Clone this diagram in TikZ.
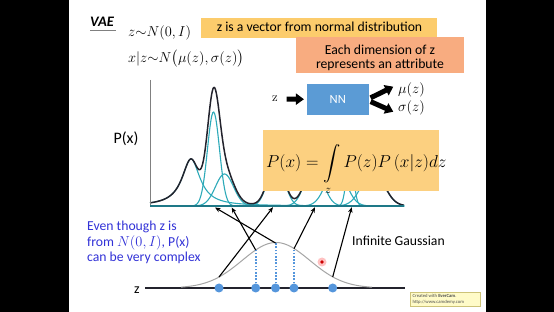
\documentclass[tikz,border=0pt]{standalone}
\usepackage{exscale}
\usepackage{fontspec}
\newfontfamily\calib{Carlito}
\usetikzlibrary{arrows.meta}
\definecolor{boxA}{RGB}{252,204,108}
\definecolor{boxB}{RGB}{248,172,128}
\definecolor{boxC}{RGB}{252,208,128}
\definecolor{nnblue}{RGB}{91,155,213}
\definecolor{tealc}{RGB}{45,170,185}
\definecolor{axteal}{RGB}{30,120,135}
\definecolor{curvegray}{RGB}{165,165,165}
\definecolor{dotblue}{RGB}{85,150,220}
\definecolor{txtblue}{RGB}{50,50,215}
\definecolor{ecfill}{RGB}{255,251,200}
\definecolor{ecdraw}{RGB}{205,195,120}
\definecolor{sumcol}{RGB}{35,35,45}
\tikzset{
  sanstext/.style={font=\calib\fontsize{13.7}{15.6}\selectfont, inner sep=0pt},
  colbox/.style={rectangle, inner sep=0pt},
  bigarrow/.style={line width=5pt, -{Triangle[length=8pt,width=11pt]}},
  zarrow/.style={line width=1.1pt, -{Stealth[length=5.5pt,width=4.5pt]}},
  dotline/.style={dotblue, line width=2pt, dash pattern=on 1.6pt off 1.6pt},
  zdot/.style={circle, fill=dotblue, minimum size=9pt, inner sep=0pt},
  tealcurve/.style={tealc, line width=1.1pt},
  mathtext/.style={inner sep=0pt, font=\fontsize{13.8}{16}\selectfont},
}
\begin{document}
\begin{tikzpicture}[x=1pt,y=-1pt,
  declare function={
    gau(\t,\c,\s)=exp(-min(0.5*((\t-\c)/\s)*((\t-\c)/\s),15));
    lor(\t,\c,\w)=1/(1+((\t-\c)/\w)*((\t-\c)/\w));
    cA(\t)=47*lor(\t,191,11);
    cB(\t)=94*gau(\t,213.5,6);
    cC(\t)=32*gau(\t,224.5,9);
    cD(\t)=45*gau(\t,276,8);
    cE(\t)=40*gau(\t,314,9);
    cF(\t)=38*gau(\t,336,10);
    cG(\t)=50*gau(\t,350,3.5);
    cH(\t)=35*gau(\t,373,11);
    tot(\t)=cA(\t)+cB(\t)+cC(\t)+cD(\t)+cE(\t)+cF(\t)+cG(\t)+cH(\t);
  }]
\useasboundingbox (0,0) rectangle (554,312);
\fill[black] (0,0) rectangle (554,312);
\fill[white] (69,0) rectangle (486,312);

% title and equations
\node[inner sep=0pt, anchor=base west, font=\calib\bfseries\itshape\fontsize{14.5}{16}\selectfont] (vae) at (90,26.5) {VAE};
\draw[gray, line width=0.9pt] (90,30.5) -- (116,30.5);
\node[mathtext, anchor=base west] (eq1) at (128,36.5) {$z{\sim}N(0,I)$};
\node[mathtext, anchor=base west] (eq2) at (128,62.5) {$x|z{\sim}N\bigl(\mu(z),\sigma(z)\bigr)$};

% info boxes
\node[colbox, fill=boxA, minimum width=236pt, minimum height=20pt] (b1) at (319,28) {};
\node[sanstext, anchor=base] (t1) at (319.5,31.5) {z is a vector from normal distribution};
\node[colbox, fill=boxB, minimum width=168pt, minimum height=36pt] (b2) at (380,54.7) {};
\node[sanstext, anchor=base] (t2a) at (380,54.3) {Each dimension of z};
\node[sanstext, anchor=base] (t2b) at (380,69) {represents an attribute};

% NN block
\node[colbox, fill=nnblue, minimum width=62.5pt, minimum height=31pt, text=white, font=\calib\fontsize{12.5}{14}\selectfont] (nn) at (337.8,99.5) {NN};
\node[inner sep=0pt, font=\fontsize{13}{15}\selectfont] (zl) at (275,99) {z};
\coordinate (mut) at (393.3,86.7);
\coordinate (sgt) at (393.3,111.7);
\node[mathtext, anchor=west, font=\fontsize{13.5}{15}\selectfont] (mu) at (398,90) {$\mu(z)$};
\node[mathtext, anchor=west, font=\fontsize{13.5}{15}\selectfont] (sg) at (398,108.3) {$\sigma(z)$};
\draw[bigarrow, shorten <=8.5pt, shorten >=2.4pt] (zl) -- (nn);
\draw[bigarrow, shorten <=1.5pt] ([yshift=1pt]nn.east) -- (mut);
\draw[bigarrow, shorten <=1.5pt] ([yshift=-1.5pt]nn.east) -- (sgt);

% plot of P(x)
\node[inner sep=0pt, font=\calib\fontsize{16}{18}\selectfont] (px) at (126,139) {P(x)};
\foreach \f in {cA,cB,cC,cD,cE,cF,cG,cH}
  \draw[tealcurve] plot[domain=150:404, samples=260] (\x,{206-\f(\x)});
\draw[sumcol, line width=1.5pt, line join=round] plot[domain=150:404, samples=400] (\x,{206-tot(\x)});
\draw[gray, line width=0.8pt] (150,80) -- (150,206);
\draw[axteal, line width=1.5pt] (150,206) -- (404,206);

% formula box
\node[colbox, fill=boxC, minimum width=176pt, minimum height=61pt] (fbox) at (351,160.5) {};
\node[inner sep=0pt, anchor=base west, font=\fontsize{17}{20}\selectfont] (form) at (266,168) {$P(x)=\displaystyle\int\limits_z P(z)P\,(x|z)dz$};

% latent axis
\draw[sumcol, line width=1.8pt] (145,288) -- (405,288);
\draw[curvegray, line width=1pt] plot[domain=181:372, samples=140] (\x,{288-45.5*gau(\x,276,33.8)});
\node[inner sep=0pt, font=\calib\fontsize{14}{16}\selectfont] (zb) at (137,290) {z};
\coordinate (g1) at (219,277);
\coordinate (g2) at (255.7,250);
\coordinate (g3) at (275.5,243);
\coordinate (g4) at (294,248.7);
\coordinate (g5) at (332.7,277);
\node[zdot] (d1) at (219,288) {};
\node[zdot] (d2) at (255.7,288) {};
\node[zdot] (d3) at (275.5,288) {};
\node[zdot] (d4) at (294,288) {};
\node[zdot] (d5) at (332.7,288) {};
\draw[dotline] (d2) -- (g2);
\draw[dotline] (d3) -- (g3);
\draw[dotline] (d4) -- (g4);
\coordinate (p1) at (215,207.5);
\coordinate (p2) at (231.7,207.5);
\coordinate (p3) at (273,207.2);
\coordinate (p4) at (315,207.2);
\coordinate (p5) at (351.7,207.2);
\draw[zarrow] (g3) -- (p1);
\draw[zarrow] (g2) -- (p2);
\draw[zarrow] (g1) -- (p3);
\draw[zarrow] (g4) -- (p4);
\draw[zarrow] (g5) -- (p5);

% texts
\node[sanstext, anchor=base west] (inf) at (352,245.5) {Infinite Gaussian};
\node[sanstext, anchor=north west, align=left, text=txtblue] (note) at (87,221) {Even though z is\\from $N(0,I)$, P(x)\\can be very complex};

% cursor mark
\fill[red!30, opacity=0.8] (322,262) circle (4.5);
\fill[red!80!black] (322,262) circle (1.8);

% watermark
\node[colbox, draw=ecdraw, fill=ecfill, minimum width=70pt, minimum height=14pt] (ec) at (445,299) {};
\node[inner sep=0pt, anchor=west, align=left, text=gray!60!black, font=\calib\fontsize{4.7}{5.6}\selectfont] (ectext) at (412.5,299) {Created with \textbf{EverCam}.\\http://www.camdemy.com};
\end{tikzpicture}
\end{document}
